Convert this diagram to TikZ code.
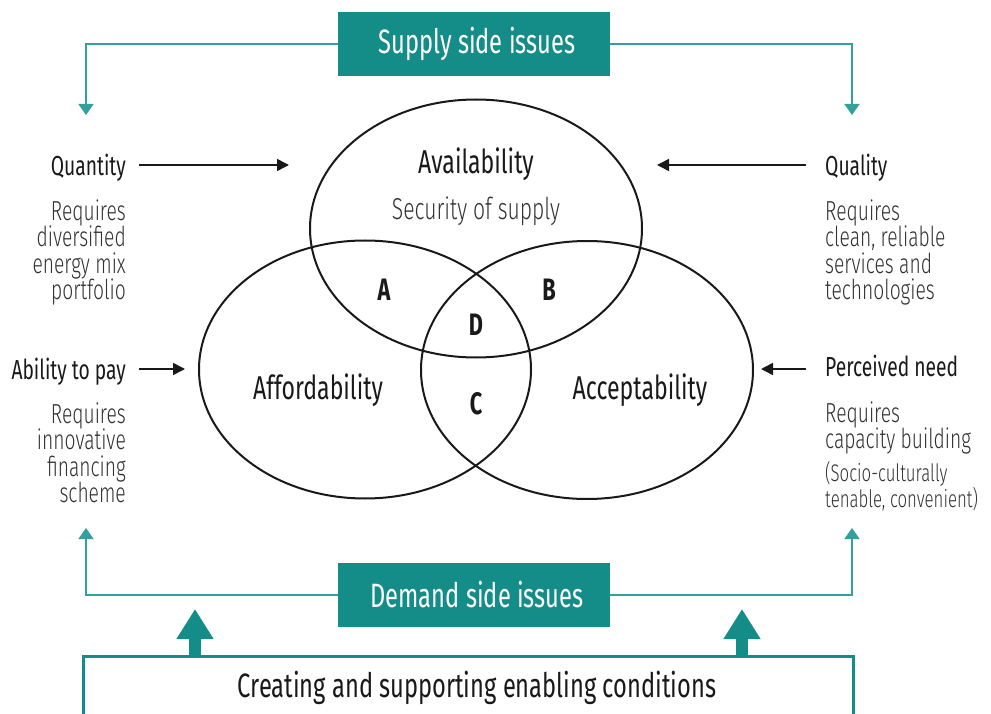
\documentclass[tikz,border=0pt]{standalone}
\usepackage{fontspec}
\setmainfont{Fira Sans}[FakeStretch=0.7]
\newfontfamily\lightf{Fira Sans Light}[FakeStretch=0.7]
\usetikzlibrary{arrows.meta,shapes.geometric}
\definecolor{teal1}{RGB}{20,140,136}
\definecolor{teal2}{RGB}{50,160,155}
\definecolor{ink}{RGB}{25,25,25}
\definecolor{gray1}{RGB}{50,50,50}
\begin{document}
\begin{tikzpicture}[x=1pt,y=-1pt,
  head/.style={font=\fontsize{27.5}{26.5}\selectfont, text=ink, inner sep=0pt},
  body/.style={font=\lightf\fontsize{27.5}{26.5}\selectfont, text=gray1, inner sep=0pt},
  small/.style={font=\lightf\fontsize{24}{24.5}\selectfont, text=gray1, inner sep=0pt},
  big/.style={font=\fontsize{33}{33}\selectfont, text=ink, inner sep=0pt},
  letter/.style={font=\bfseries\fontsize{31}{31}\selectfont, text=ink, inner sep=0pt},
  tealbox/.style={fill=teal1, minimum width=272pt, minimum height=64pt, inner sep=0pt},
  boxtext/.style={text=white, font=\fontsize{33.8}{34}\selectfont, inner sep=0pt},
  set/.style={ellipse, draw=ink, line width=2pt, minimum width=332pt, minimum height=258pt, inner sep=0pt},
  blackarrow/.style={draw=ink, line width=1.5pt, -{Triangle[length=12pt,width=12pt]}},
  tealarrow/.style={draw=teal2, line width=1.6pt, -{Triangle[length=11pt,width=15pt]}, color=teal2},
]
\useasboundingbox (0,0) rectangle (991,714);

% Venn sets
\node[set] (avail) at (476,228.5) {};
\node[set] (afford) at (365,369.5) {};
\node[set] (accept) at (587,370) {};

\node[big, anchor=base] (tavail) at (476,174) {Availability};
\node[body, anchor=base, font=\lightf\fontsize{30.2}{30}\selectfont] (tsec) at (476,220) {Security of supply};
\node[big, anchor=base] (taff) at (318,399) {Affordability};
\node[big, anchor=base] (tacc) at (640,399) {Acceptability};
\node[letter, anchor=base] (la) at (384,300) {A};
\node[letter, anchor=base] (lb) at (549,300) {B};
\node[letter, anchor=base] (ld) at (476,335) {D};
\node[letter, anchor=base] (lc) at (476,414) {C};

% Supply / demand boxes
\node[tealbox] (supply) at (474,44) {};
\node[boxtext] (tsupply) at (477,44) {Supply side issues};
\node[tealbox] (demand) at (474,595) {};
\node[boxtext] (tdemand) at (477,595) {Demand side issues};

% Left side texts
\node[head, anchor=base east] (qty) at (126,176) {Quantity};
\node[body, anchor=north east, align=right] (qtyb) at (126,199.5) {Requires\\diversified\\energy mix\\portfolio};
\node[head, anchor=base east] (pay) at (126,379) {Ability to pay};
\node[body, anchor=north east, align=right] (payb) at (126,402.5) {Requires\\innovative\\financing\\scheme};

% Right side texts
\node[head, anchor=base west] (qual) at (825,176) {Quality};
\node[body, anchor=north west, align=left] (qualb) at (825,199.5) {Requires\\clean, reliable\\services and\\technologies};
\node[head, anchor=base west] (need) at (825,376) {Perceived need};
\node[body, anchor=north west, align=left] (needb) at (825,401.5) {Requires\\capacity building};
\node[small, anchor=north west, align=left] (needc) at (825,461.5) {(Socio-culturally\\tenable, convenient)};

% black arrows
\coordinate (qtyS) at (139,165);
\coordinate (qtyE) at (289,165);
\coordinate (qualS) at (806,165);
\coordinate (qualE) at (657,165);
\coordinate (payS) at (139,369);
\coordinate (payE) at (185,369);
\coordinate (needS) at (806,369);
\coordinate (needE) at (761,369);
\draw[blackarrow] (qtyS) -- (qtyE);
\draw[blackarrow] (qualS) -- (qualE);
\draw[blackarrow] (payS) -- (payE);
\draw[blackarrow] (needS) -- (needE);

% teal connectors
\coordinate (tl) at (86,115);
\coordinate (tr) at (852,115);
\coordinate (bl) at (86,528);
\coordinate (br) at (852,528);
\draw[tealarrow] (supply.west) -| (tl);
\draw[tealarrow] (supply.east) -| (tr);
\draw[tealarrow] (demand.west) -| (bl);
\draw[tealarrow] (demand.east) -| (br);

% enabling conditions box
\node[draw=teal1, line width=3pt, minimum width=770pt, minimum height=80pt, inner sep=0pt, anchor=north] (enab) at (468,655) {};
\node[big, anchor=base, font=\fontsize{33.8}{34}\selectfont] (tenab) at (477,697) {Creating and supporting enabling conditions};

% thick arrows
\coordinate (ta1) at (195,609);
\coordinate (ta2) at (742,609);
\coordinate (ts1) at (195,655);
\coordinate (ts2) at (742,655);
\draw[teal1, line width=12pt, -{Triangle[length=30pt,width=35pt]}] (ts1) -- (ta1);
\draw[teal1, line width=12pt, -{Triangle[length=30pt,width=35pt]}] (ts2) -- (ta2);
\end{tikzpicture}
\end{document}
